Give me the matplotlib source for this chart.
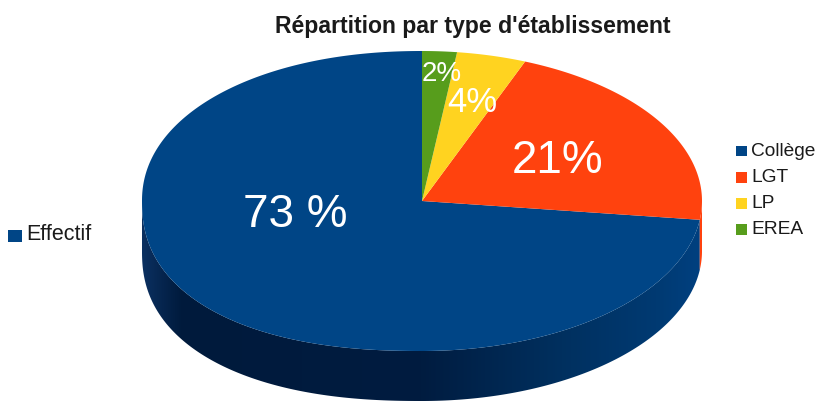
#!/usr/bin/env python3
"""Pseudo-3D pie: share per type of school, drawn flat then given a side wall."""
import matplotlib
matplotlib.use("Agg")
import matplotlib.pyplot as plt
import numpy as np
from matplotlib.colors import LinearSegmentedColormap
from matplotlib.patches import PathPatch, Rectangle
from matplotlib.path import Path

plt.rcParams["font.family"] = ["Liberation Sans", "DejaVu Sans"]

categories = ["Collège", "LGT", "LP", "EREA"]
shares = [73, 21, 4, 2]
labels = ["73 %", "21%", "4%", "2%"]
colors = ["#004586", "#ff420e", "#ffd320", "#579d1c"]
series_name = "Effectif"
title = "Répartition par type d'établissement"

W, H = 816, 401
CX, CY = 422, 201   # pie centre, px
RX, RY = 280, 150   # ellipse radii, px
DEPTH = 50          # side wall height, px
WALL_STOPS = [(0.0, "#0b3060"), (0.07, "#001a3c"), (0.5, "#001c40"),
              (0.75, "#00305f"), (0.92, "#003a72"), (1.0, "#004080")]

fig = plt.figure(figsize=(W / 100, H / 100), dpi=100)
ax = fig.add_axes([0, 0, 1, 1])

# one data unit = one radius in x and y. Pie is oversized, then clipped to the rim
wedges, _ = ax.pie(shares, colors=colors, startangle=90, radius=1.3,
                   wedgeprops={"linewidth": 0, "zorder": 3})
ax.set_aspect("auto")
ax.axis("off")
d = DEPTH / RY


def rim(deg):
    """Rim point at angle deg: the left half of the source bulges past a true ellipse."""
    t = np.radians(deg)
    c, s = np.cos(t), np.sin(t)
    p = np.where(c >= 0, 2.0, np.where(s >= 0, 2.1, 2.3))
    r = (np.abs(c) ** p + np.abs(s) ** p) ** (-1 / p)
    return r * c, r * s


rx, ry = rim(np.linspace(0, 360, 721))
rim_path = Path(np.c_[rx, ry], closed=True)
for w in wedges:
    w.set_clip_on(True)  # pie turns clipping off on its wedges
    w.set_clip_path(rim_path, transform=ax.transData)


def wall_path(a0, a1):
    """Side wall under the rim between angles a0..a1 (degrees, lower half only)."""
    x, y = rim(np.linspace(a0, a1, 300))
    verts = np.r_[np.c_[x, y], np.c_[x[::-1], y[::-1] - d], [[x[0], y[0]]]]
    return Path(verts, closed=True)


# side wall: only the part of each slice facing the viewer shows
start = 90.0
for share, col in zip(shares, colors):
    a0, a1 = start, start + share * 3.6
    start = a1
    for lo, hi in ((a0, a1), (a0 - 360, a1 - 360)):
        lo2, hi2 = max(lo, 180), min(hi, 360)
        if hi2 <= lo2:
            continue
        path = wall_path(lo2, hi2)
        if col == colors[0]:
            shade = LinearSegmentedColormap.from_list("wall", WALL_STOPS)
            im = ax.imshow(np.linspace(0, 1, 256)[None, :], cmap=shade, aspect="auto",
                           extent=(-1, 1, -1 - d, 0.1), zorder=2)
            patch = PathPatch(path, transform=ax.transData, fc="none", ec="none")
            ax.add_patch(patch)
            im.set_clip_path(patch)
        else:
            ax.add_patch(PathPatch(path, fc=col, ec="none", zorder=2))

ax.set_xlim(-CX / RX, (W - CX) / RX)
ax.set_ylim((CY - H) / RY, CY / RY)
ax.set_aspect("auto")

# value labels, placed by hand in pixels like the original
label_pos = [(295, 215, 33), (558, 161, 33), (472, 103, 25), (442, 74, 20)]
for txt, (px, py, fs) in zip(labels, label_pos):
    fig.text(px / W, 1 - py / H, txt, color="white", fontsize=fs, ha="center", va="center", zorder=5)

fig.text(473 / W, 1 - 26 / H, title, fontsize=16.6, fontweight="bold", color="#1a1a1a",
         ha="center", va="center")

# the two legends are hand-placed squares + text, spacing as in the source
for i, (cat, col) in enumerate(zip(categories, colors)):
    y = 151 + i * 26.3
    fig.add_artist(Rectangle((736 / W, 1 - (y + 5.5) / H), 11 / W, 11 / H, fc=col, ec="none",
                             transform=fig.transFigure))
    fig.text(751 / W, 1 - y / H, cat, fontsize=13.8, color="#1a1a1a", va="center")

fig.add_artist(Rectangle((8 / W, 1 - 242 / H), 14 / W, 12 / H, fc=colors[0], ec="none",
                         transform=fig.transFigure))
fig.text(26 / W, 1 - 235 / H, series_name, fontsize=15.5, color="#1a1a1a", va="center")

fig.savefig("out.png", dpi=100)
